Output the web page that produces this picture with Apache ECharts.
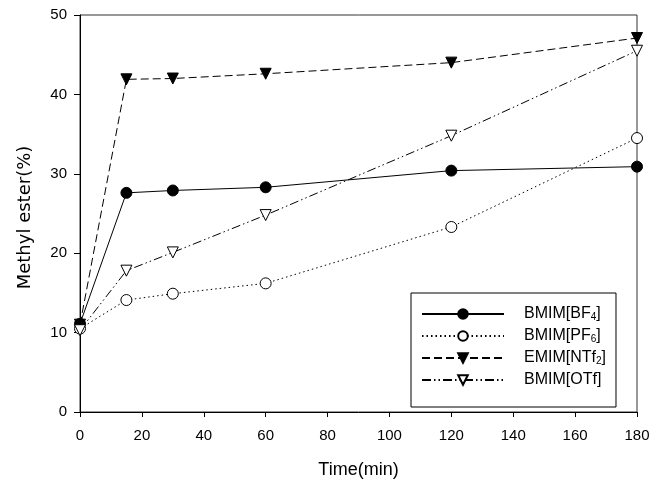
<!DOCTYPE html>
<html><head><meta charset="utf-8">
<script src="https://cdn.jsdelivr.net/npm/echarts@6/dist/echarts.min.js"></script>
<style>html,body{margin:0;padding:0;background:#fff}#c{width:671px;height:484px}</style>
</head><body><div id="c"></div>
<script>
const times = [0, 15, 30, 60, 120, 180];
const bf4 = [11.1, 27.6, 27.9, 28.3, 30.4, 30.9];
const pf6 = [10.5, 14.1, 14.9, 16.2, 23.3, 34.5];
const ntf2 = [11.0, 41.9, 42.0, 42.6, 44.0, 47.1];
const otf = [10.3, 17.8, 20.1, 24.8, 34.8, 45.5];
const xTicks = [0, 20, 40, 60, 80, 100, 120, 140, 160, 180];
const yTicks = [0, 10, 20, 30, 40, 50];
const names = ['BMIM[BF4]', 'BMIM[PF6]', 'EMIM[NTf2]', 'BMIM[OTf]'];
const legendRich = {
  'BMIM[BF4]': '{t|BMIM[BF}{s|4}{t|]}',
  'BMIM[PF6]': '{t|BMIM[PF}{s|6}{t|]}',
  'EMIM[NTf2]': '{t|EMIM[NTf}{s|2}{t|]}',
  'BMIM[OTf]': '{t|BMIM[OTf]}'
};
const pair = (arr) => times.map((t, i) => [t, arr[i]]);
const font = 'Liberation Sans, Arial, sans-serif';
const chart = echarts.init(document.getElementById('c'));
const common = { type: 'line', symbolSize: 11, itemStyle: { color: '#000', borderColor: '#000', borderWidth: 1 } };
chart.setOption({
  animation: false,
  backgroundColor: '#fff',
  grid: { left: 80, right: 34, top: 15, bottom: 69, show: true, borderColor: '#333', borderWidth: 1 },
  xAxis: {
    type: 'value', min: 0, max: 180, interval: 20,
    name: 'Time(min)', nameLocation: 'middle', nameGap: 49,
    nameTextStyle: { fontSize: 18, color: '#000', fontFamily: font },
    axisLine: { lineStyle: { color: '#000', width: 1 } },
    axisTick: { show: true, length: 5, lineStyle: { color: '#000' } },
    axisLabel: { margin: 16, fontSize: 15, color: '#000', fontFamily: font,
      formatter: v => xTicks.includes(v) ? String(v) : '' },
    splitLine: { show: false }
  },
  yAxis: {
    type: 'value', min: 0, max: 50, interval: 10,
    name: 'Methyl ester(%)', nameLocation: 'middle', nameGap: 46,
    nameTextStyle: { fontSize: 18, color: '#000', fontFamily: 'DejaVu Sans, sans-serif', padding: [0, 8, 0, 0] },
    axisLine: { show: true, lineStyle: { color: '#000', width: 1 } },
    axisTick: { show: true, length: 6, lineStyle: { color: '#000' } },
    axisLabel: { margin: 13, fontSize: 15, color: '#000', fontFamily: font,
      formatter: v => yTicks.includes(v) ? String(v) : '' },
    splitLine: { show: false }
  },
  legend: {
    orient: 'vertical', left: 411, top: 293,
    borderColor: '#000', borderWidth: 1,
    padding: [13, 10, 19, 10],
    itemWidth: 82, itemHeight: 12, itemGap: 6,
    data: names,
    formatter: n => legendRich[n],
    textStyle: {
      color: '#000', fontFamily: font, padding: [0, 0, 0, 15],
      rich: {
        t: { fontSize: 16, color: '#000', fontFamily: font, lineHeight: 16 },
        s: { fontSize: 10, color: '#000', fontFamily: font, verticalAlign: 'bottom', lineHeight: 16, padding: [6, 0, 0, 0] }
      }
    }
  },
  series: [
    Object.assign({}, common, { name: names[0], data: pair(bf4), symbol: 'circle',
      lineStyle: { color: '#000', width: 1, type: 'solid' } }),
    Object.assign({}, common, { name: names[1], data: pair(pf6), symbol: 'circle',
      itemStyle: { color: '#fff', borderColor: '#000', borderWidth: 1 },
      lineStyle: { color: '#000', width: 1, type: [1.5, 3] } }),
    Object.assign({}, common, { name: names[2], data: pair(ntf2), symbol: 'triangle', symbolRotate: 180,
      lineStyle: { color: '#000', width: 1, type: [8, 4] } }),
    Object.assign({}, common, { name: names[3], data: pair(otf), symbol: 'triangle', symbolRotate: 180,
      itemStyle: { color: '#fff', borderColor: '#000', borderWidth: 1 },
      lineStyle: { color: '#000', width: 1, type: [9, 3, 1.5, 3, 1.5, 3] } })
  ]
});
</script></body></html>
